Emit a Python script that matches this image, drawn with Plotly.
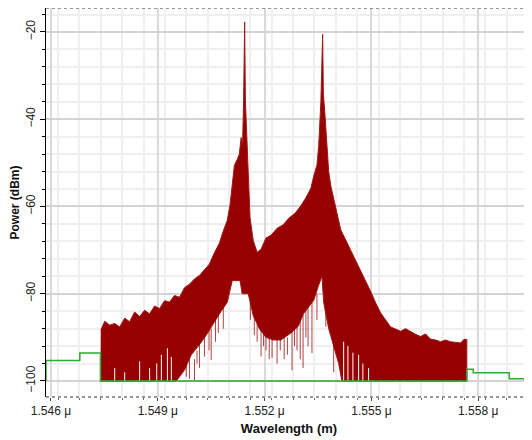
import plotly.graph_objects as go

# spectrum upper envelope (wavelength in um, power in dBm)
upper_wl = [
    1.54740, 1.54751, 1.54765, 1.54779, 1.54793, 1.54807, 1.54821, 1.54835,
    1.54849, 1.54863, 1.54877, 1.54891, 1.54905, 1.54919, 1.54933, 1.54947,
    1.54961, 1.54975, 1.54989, 1.55003, 1.55017, 1.55031, 1.55045, 1.55059,
    1.55073, 1.55084, 1.55095, 1.55103, 1.55109, 1.55115, 1.55123, 1.55129,
    1.55134, 1.55138, 1.55141, 1.55144, 1.55146, 1.55148, 1.55151, 1.55155,
    1.55159, 1.55168, 1.55179, 1.55190, 1.55204, 1.55218, 1.55235, 1.55252,
    1.55269, 1.55285, 1.55302, 1.55316, 1.55330, 1.55338, 1.55347, 1.55352,
    1.55358, 1.55363, 1.55365, 1.55369, 1.55375, 1.55380, 1.55386, 1.55397,
    1.55406, 1.55414, 1.55428, 1.55442, 1.55456, 1.55470, 1.55484, 1.55498,
    1.55512, 1.55526, 1.55540, 1.55554, 1.55568, 1.55582, 1.55596, 1.55610,
    1.55624, 1.55638, 1.55652, 1.55666, 1.55680, 1.55694, 1.55708, 1.55722,
    1.55736, 1.55750, 1.55761, 1.55768,
]
upper_db = [
    -88.3, -86.3, -87.2, -86.8, -87.6, -85.6, -86.4, -84.2,
    -85.2, -83.8, -84.6, -82.8, -83.4, -81.6, -81.9, -80.4,
    -80.8, -78.6, -77.8, -76.6, -75.8, -74.4, -73.2, -70.6,
    -68.4, -65.6, -63.2, -59.6, -54.2, -50.6, -49.2, -48.0,
    -44.2, -46.0, -35.6, -17.7, -35.6, -40.5, -48.0, -55.8,
    -62.5, -67.8, -70.5, -69.8, -67.2, -66.6, -65.0, -64.2,
    -62.6, -61.6, -59.8, -58.0, -55.8, -53.0, -50.5, -46.0,
    -36.0, -20.5, -34.2, -38.3, -46.6, -52.0, -55.3, -59.3,
    -62.3, -65.4, -67.7, -70.0, -72.3, -74.9, -76.9, -79.5,
    -82.1, -84.4, -86.0, -87.6, -88.1, -88.6, -88.0, -88.7,
    -89.3, -89.8, -89.2, -90.4, -90.6, -91.0, -90.6, -91.0,
    -91.2, -91.3, -90.4, -90.5,
]

# spectrum lower envelope
lower_wl = [
    1.54739, 1.54952, 1.54975, 1.54994, 1.55014, 1.55036, 1.55056, 1.55078,
    1.55095, 1.55103, 1.55109, 1.55131, 1.55137, 1.55154, 1.55168, 1.55185,
    1.55204, 1.55224, 1.55246, 1.55274, 1.55294, 1.55310, 1.55324, 1.55338,
    1.55352, 1.55361, 1.55366, 1.55380, 1.55394, 1.55408, 1.55417, 1.55768,
]
lower_db = [
    -100, -100, -97.5, -94, -92, -89.5, -87, -84,
    -82, -79, -77, -77, -80, -80, -85, -88,
    -90, -90.6, -90.6, -89, -87.5, -84.5, -83, -81.5,
    -78, -76, -82, -88, -92, -96, -100, -100,
]

# deep dips reaching below the lower envelope
dip_wl = [1.54980, 1.54989, 1.55003, 1.55010, 1.55017, 1.55031, 1.55044,
          1.55050, 1.55062, 1.55070, 1.55084, 1.55160, 1.55171, 1.55179,
          1.55190, 1.55197, 1.55204, 1.55213, 1.55221, 1.55235, 1.55244,
          1.55255, 1.55264, 1.55277, 1.55284, 1.55291, 1.55300, 1.55308,
          1.55316, 1.55322, 1.55333, 1.55347, 1.55372, 1.55394]
dip_top = [-96, -95, -95, -93, -91, -89, -88, -88, -86, -85, -83, -82,
           -84, -87, -87, -88, -89, -90, -89, -90, -90, -90, -90, -88,
           -88, -87, -86, -85, -83, -83, -82, -80, -82, -91]
dip_low = [-99, -99.5, -99.8, -96, -97, -94.4, -93, -95.2, -91, -89, -88,
           -86, -89.5, -91, -94.4, -92, -93, -95, -94.7, -96, -93, -95,
           -94, -97.5, -92, -93, -95, -97, -90, -92, -93.6, -86, -87.6, -98]

# white gaps rising from the floor
gap_wl = [1.54779, 1.54807, 1.54849, 1.54877, 1.54897, 1.54910, 1.54927,
          1.54938, 1.55422, 1.55434, 1.55448, 1.55464, 1.55476, 1.55492]
gap_top = [-97, -98, -95.5, -97, -96, -94, -92.5, -94.5, -91, -92, -93.5,
           -94, -96, -97]

# green step trace
step_wl = [1.54586, 1.54586, 1.54681, 1.54739, 1.55768, 1.55786, 1.55887, 1.55960]
step_db = [-100, -95.3, -93.6, -100, -97.3, -98.1, -99.5, -99.5]

RED = "#960000"

fig = go.Figure()

fig.add_trace(go.Scatter(
    x=upper_wl + lower_wl[::-1],
    y=upper_db + lower_db[::-1],
    fill="toself",
    fillcolor=RED,
    mode="lines",
    line=dict(color="#a01818", width=1),
    hoverinfo="skip",
))

dx, dy = [], []
for w, t, b in zip(dip_wl, dip_top, dip_low):
    dx += [w, w, None]
    dy += [t, b, None]
fig.add_trace(go.Scatter(x=dx, y=dy, mode="lines",
                         line=dict(color="rgba(150,0,0,0.75)", width=1),
                         hoverinfo="skip"))

gx, gy = [], []
for w, t in zip(gap_wl, gap_top):
    gx += [w, w, None]
    gy += [-100, t, None]
fig.add_trace(go.Scatter(x=gx, y=gy, mode="lines",
                         line=dict(color="white", width=1),
                         hoverinfo="skip"))

fig.add_trace(go.Scatter(
    x=step_wl, y=step_db, mode="lines",
    line=dict(color="#2eaa2e", width=1.5, shape="hv"),
    hoverinfo="skip",
))

# the page body has an 8px margin, so the figure is a bit smaller than the window
fig.update_layout(
    width=524,
    height=432,
    margin=dict(l=36, r=0, t=0, b=43),
    paper_bgcolor="white",
    plot_bgcolor="white",
    showlegend=False,
    font=dict(family="Liberation Sans, Arial, sans-serif", size=12, color="#222"),
    xaxis=dict(
        range=[1.54586, 1.55951],
        tick0=1.546,
        dtick=0.003,
        tickformat=".3f",
        ticksuffix=" μ",
        showgrid=True,
        gridcolor="#d9d9d9",
        gridwidth=2,
        zeroline=False,
        showline=False,
        ticks="outside",
        ticklen=3,
        tickcolor="#444",
        minor=dict(dtick=0.0006, showgrid=True, gridcolor="#efefef",
                   gridwidth=2, ticks="outside", ticklen=2, tickcolor="#666"),
        title=dict(text="<b>Wavelength (m)</b>", font=dict(size=13, color="#111"),
                   standoff=6),
    ),
    yaxis=dict(
        range=[-103.67, -14.5],
        tick0=-100,
        dtick=20,
        tickangle=-90,
        showgrid=True,
        gridcolor="#d4d4d4",
        gridwidth=1.5,
        zeroline=False,
        showline=True,
        linecolor="black",
        linewidth=1,
        ticks="outside",
        ticklen=5,
        tickcolor="black",
        minor=dict(dtick=4, showgrid=True, gridcolor="#efefef", gridwidth=2,
                   ticks="outside", ticklen=3, tickcolor="black"),
        title=dict(text="<b>Power (dBm)</b>", font=dict(size=12, color="#111"),
                   standoff=8),
    ),
)

# dotted frame lines at bottom and top
for yp in (0, 1):
    fig.add_shape(type="line", xref="paper", yref="paper",
                  x0=0, x1=1, y0=yp, y1=yp,
                  line=dict(color="#333", width=1, dash="dot"))

fig.write_html("out.html")
